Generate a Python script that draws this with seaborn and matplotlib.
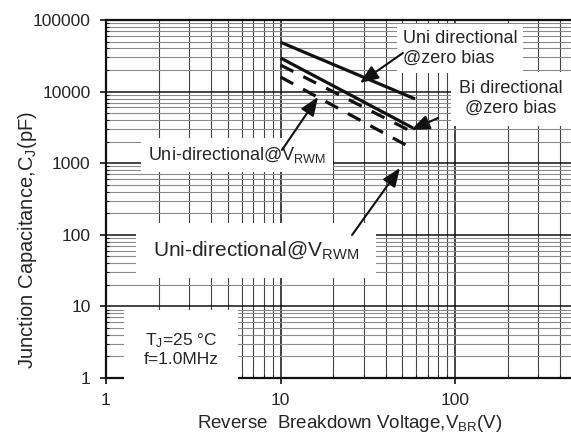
import matplotlib
matplotlib.use("Agg")
import matplotlib.pyplot as plt
import seaborn as sns
import numpy as np
import pandas as pd
from matplotlib.ticker import LogLocator, FixedLocator, FixedFormatter, NullFormatter

# ---------------- data ----------------
uni_zero_v = [10, 59.0]
uni_zero_c = [49000, 7900]
bi_zero_v = [10, 57.5]
bi_zero_c = [29500, 3100]
uni_rwm_a_v = [10, 57.5]
uni_rwm_a_c = [23500, 2700]
uni_rwm_b_v = [10, 59.0]
uni_rwm_b_c = [16000, 1530]

x_ticks = [1, 10, 100]
x_tick_labels = ["1", "10", "100"]
y_ticks = [1, 10, 100, 1000, 10000, 100000]
y_tick_labels = ["1", "10", "100", "1000", "10000", "100000"]

# ---------------- style ----------------
sns.set_theme(style="white")
plt.rcParams["font.family"] = ["Liberation Sans", "DejaVu Sans"]
plt.rcParams["mathtext.fontset"] = "custom"
plt.rcParams["mathtext.rm"] = "Liberation Sans"
plt.rcParams["mathtext.it"] = "Liberation Sans:italic"
plt.rcParams["mathtext.bf"] = "Liberation Sans:bold"

TXT = "#262626"

fig = plt.figure(figsize=(5.71, 4.42), dpi=100)
ax = fig.add_axes([106 / 571, 64 / 442, 465 / 571, 358 / 442])
ax.set_xscale("log")
ax.set_yscale("log")

series = [
    (uni_zero_v, uni_zero_c, "-"),
    (bi_zero_v, bi_zero_c, "-"),
    (uni_rwm_a_v, uni_rwm_a_c, (0, (4.5, 3.5))),
    (uni_rwm_b_v, uni_rwm_b_c, (0, (4.5, 3.5))),
]
for v, c, ls in series:
    df = pd.DataFrame({"V": v, "C": c})
    sns.lineplot(data=df, x="V", y="C", ax=ax, color="#111111",
                 linewidth=2.3, linestyle=ls, solid_capstyle="butt",
                 dash_capstyle="butt", zorder=4)

ax.set_xlim(1, 462)
ax.set_ylim(1, 100000)

ax.xaxis.set_major_locator(FixedLocator(x_ticks))
ax.xaxis.set_major_formatter(FixedFormatter(x_tick_labels))
ax.yaxis.set_major_locator(FixedLocator(y_ticks))
ax.yaxis.set_major_formatter(FixedFormatter(y_tick_labels))
ax.xaxis.set_minor_locator(LogLocator(base=10, subs=np.arange(2, 10), numticks=100))
ax.yaxis.set_minor_locator(LogLocator(base=10, subs=np.arange(2, 10), numticks=100))
ax.xaxis.set_minor_formatter(NullFormatter())
ax.yaxis.set_minor_formatter(NullFormatter())

ax.tick_params(which="major", direction="out", length=4, width=1.2,
               color="#111111", pad=7, labelsize=12.5, labelcolor=TXT,
               bottom=True, left=True)
ax.tick_params(which="minor", direction="in", length=2.5, width=0.8,
               color="#111111", bottom=True, left=True)

ax.grid(which="major", color="#111111", linewidth=1.1)
ax.xaxis.grid(which="minor", color="#444444", linewidth=0.8)
ax.yaxis.grid(which="minor", color="#8a8a8a", linewidth=0.8)
ax.set_axisbelow(True)

for s in ["left", "bottom", "top"]:
    ax.spines[s].set_visible(True)
    ax.spines[s].set_color("#111111")
    ax.spines[s].set_linewidth(1.6)
ax.spines["right"].set_visible(False)

ax.set_xlabel("")
ax.set_ylabel("")
fig.text(0.613, 0.041, r"Reverse  Breakdown Voltage,V$_{\mathrm{BR}}$(V)",
         ha="center", va="center", fontsize=13.5, color=TXT)
fig.text(0.049, 0.457, r"Junction Capacitance,C$_{\mathrm{J}}$(pF)",
         ha="center", va="center", rotation=90, fontsize=14.5, color=TXT)

# ---------------- annotations ----------------
box = lambda p: dict(facecolor="white", edgecolor="none", pad=p)

ax.text(50.3, 72700, "Uni directional\n@zero bias", ha="left", va="top",
        multialignment="left", fontsize=13, color=TXT, bbox=box(4),
        zorder=3, linespacing=1.25)
ax.text(209, 14500, "Bi directional\n@zero bias", ha="center", va="top",
        multialignment="center", fontsize=13, color=TXT, bbox=box(6),
        zorder=3, linespacing=1.25)
ax.text(1.74, 1110, r"Uni-directional@V$_{\mathrm{RWM}}$", ha="left",
        va="baseline", fontsize=13, color=TXT, bbox=box(5), zorder=3)
ax.text(1.86, 50.6, r"Uni-directional@V$_{\mathrm{RWM}}$", ha="left",
        va="baseline", fontsize=15, color=TXT, bbox=box(12), zorder=3)
ax.text(2.69, 2.54, "T$_{\\mathrm{J}}$=25 °C\nf=1.0MHz", ha="center",
        va="center", multialignment="center", fontsize=12.5, color=TXT,
        bbox=box(14), zorder=3, linespacing=1.2)

arrow = dict(arrowstyle="-|>,head_length=0.75,head_width=0.3",
             mutation_scale=15, color="#111111", lw=1.5,
             shrinkA=0, shrinkB=0)
arrows = [
    ((28.5, 13200), (50.3, 34600)),
    ((56.0, 2910), (80.0, 4280)),
    ((16.4, 8400), (10.2, 1530)),
    ((48.4, 857), (25.7, 99.3)),
]
for tip, tail in arrows:
    ax.annotate("", xy=tip, xytext=tail, arrowprops=arrow, zorder=6)

fig.savefig("out.png", dpi=100)
